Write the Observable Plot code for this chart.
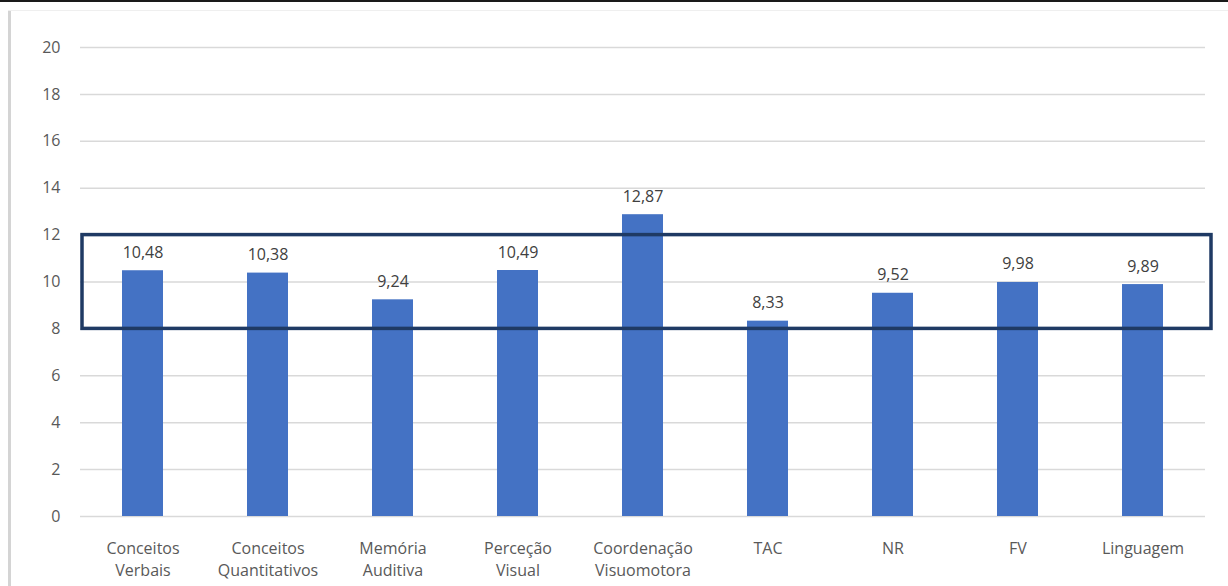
<!DOCTYPE html>
<html>
<head>
<meta charset="utf-8">
<script src="https://cdn.jsdelivr.net/npm/d3@7"></script>
<script src="https://cdn.jsdelivr.net/npm/@observablehq/plot@0.6"></script>
<style>
  html, body { margin: 0; padding: 0; background: #fff; }
  #wrap { position: relative; width: 1228px; height: 586px; overflow: hidden; background: #fff; }
  #topline { position: absolute; left: 0; top: 0; width: 1228px; height: 2px; background: #1a1a1a; }
  #leftline { position: absolute; left: 8px; top: 10px; width: 3px; height: 580px; background: #d4d4d4; }
  #topfaint { position: absolute; left: 8px; top: 10px; width: 1220px; height: 1px; background: #efefef; }
  #chart { position: absolute; left: 0; top: 0; }
</style>
</head>
<body>
<div id="wrap">
  <div id="chart"></div>
  <div id="topline"></div>
  <div id="leftline"></div>
  <div id="topfaint"></div>
</div>
<script>
const categories = [
  "Conceitos\nVerbais",
  "Conceitos\nQuantitativos",
  "Memória\nAuditiva",
  "Perceção\nVisual",
  "Coordenação\nVisuomotora",
  "TAC",
  "NR",
  "FV",
  "Linguagem"
];
const values = [10.48, 10.38, 9.24, 10.49, 12.87, 8.33, 9.52, 9.98, 9.89];
const yTicks = [0, 2, 4, 6, 8, 10, 12, 14, 16, 18, 20];
const highlightLow = 8;
const highlightHigh = 12;

const data = categories.map((c, i) => ({ cat: c, value: values[i] }));
const fmt = v => v.toFixed(2).replace(".", ",");

const plot = Plot.plot({
  width: 1228,
  height: 586,
  marginLeft: 80,
  marginRight: 23,
  marginTop: 47,
  marginBottom: 70,
  style: { fontFamily: "'Open Sans', Lato, sans-serif", background: "transparent", color: "#595959" },
  x: { domain: categories, paddingInner: 0.67, paddingOuter: 0.335, label: null },
  y: { domain: [0, 20], label: null },
  marks: [
    Plot.ruleY(yTicks, { stroke: "#d9d9d9", strokeWidth: 1.5 }),
    Plot.axisY(yTicks, { tickSize: 0, tickPadding: 20, fontSize: 16, fill: "#595959", label: null }),
    Plot.axisX({ tickSize: 0, tickPadding: 21, fontSize: 16, lineHeight: 1.42, fill: "#595959", label: null }),
    Plot.barY(data, { x: "cat", y: "value", fill: "#4472c4" }),
    Plot.text(data, { x: "cat", y: "value", text: d => fmt(d.value), lineAnchor: "bottom", dy: -13, fontSize: 16, fill: "#404040" }),
    Plot.rect([{ y1: highlightLow, y2: highlightHigh }], { y1: "y1", y2: "y2", fill: "none", stroke: "#1f3a64", strokeWidth: 3.5, insetLeft: 2, insetRight: -6 })
  ]
});
document.getElementById("chart").appendChild(plot);
</script>
</body>
</html>
